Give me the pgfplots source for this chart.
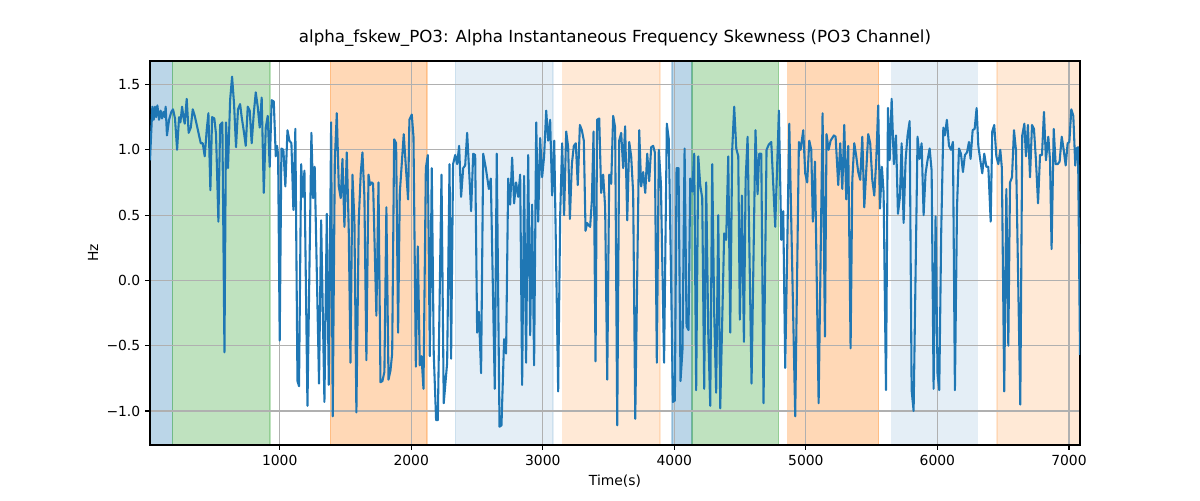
\documentclass[border=0pt]{standalone}
\usepackage{pgfplots}
\pgfplotsset{compat=1.18}
\usepackage{fontspec}
\setmainfont{DejaVu Sans}
\definecolor{tabblue}{HTML}{1F77B4}
\definecolor{taborange}{HTML}{FF7F0E}
\definecolor{tabgreen}{HTML}{2CA02C}
\begin{document}
\begin{tikzpicture}
\begin{axis}[
  set layers=standard,
  scale only axis,
  width=669.6pt, height=276.5pt,
  xmin=14, xmax=7084, ymin=-1.26, ymax=1.68,
  xtick={1000,2000,3000,4000,5000,6000,7000},
  ytick={-1,-0.5,0,0.5,1,1.5},
  yticklabels={−1.0,−0.5,0.0,0.5,1.0,1.5},
  /pgf/number format/assume math mode=true,
  /pgf/number format/set thousands separator={},
  grid=major,
  grid style={color=black!31, line width=0.8pt},
  axis line style={line width=0.8pt},
  tick style={line width=0.8pt, black},
  tick align=outside,
  major tick length=3.5pt,
  xtick pos=bottom, ytick pos=left,
  tick label style={font=\fontsize{10}{12}\selectfont},
  title={alpha\_fskew\_PO3: Alpha Instantaneous Frequency Skewness (PO3 Channel)},
  title style={at={(axis description cs:0.5,1.039)}, anchor=center, font=\fontsize{12}{14}\selectfont},
  xlabel={Time(s)},
  xlabel style={at={(axis description cs:0.5,-0.094)}, anchor=center, font=\fontsize{10}{12}\selectfont},
  ylabel={Hz},
  ylabel style={at={(axis description cs:-0.0613,0.5)}, anchor=center, font=\fontsize{10}{12}\selectfont},
]
% shaded spans
\addplot[on layer=axis background, draw=tabblue, fill=tabblue, opacity=0.3, line width=1pt] coordinates {(14,-1.26) (14,1.68) (183,1.68) (183,-1.26)};
\addplot[on layer=axis background, draw=tabgreen, fill=tabgreen, opacity=0.3, line width=1pt] coordinates {(183,-1.26) (183,1.68) (927,1.68) (927,-1.26)};
\addplot[on layer=axis background, draw=taborange, fill=taborange, opacity=0.3, line width=1pt] coordinates {(1386,-1.26) (1386,1.68) (2121,1.68) (2121,-1.26)};
\addplot[on layer=axis background, draw=tabblue, fill=tabblue, opacity=0.12, line width=1pt] coordinates {(2336,-1.26) (2336,1.68) (3079,1.68) (3079,-1.26)};
\addplot[on layer=axis background, draw=taborange, fill=taborange, opacity=0.17, line width=1pt] coordinates {(3150,-1.26) (3150,1.68) (3890,1.68) (3890,-1.26)};
\addplot[on layer=axis background, draw=tabblue, fill=tabblue, opacity=0.3, line width=1pt] coordinates {(3981,-1.26) (3981,1.68) (4133,1.68) (4133,-1.26)};
\addplot[on layer=axis background, draw=tabgreen, fill=tabgreen, opacity=0.3, line width=1pt] coordinates {(4133,-1.26) (4133,1.68) (4793,1.68) (4793,-1.26)};
\addplot[on layer=axis background, draw=taborange, fill=taborange, opacity=0.3, line width=1pt] coordinates {(4861,-1.26) (4861,1.68) (5553,1.68) (5553,-1.26)};
\addplot[on layer=axis background, draw=tabblue, fill=tabblue, opacity=0.12, line width=1pt] coordinates {(5651,-1.26) (5651,1.68) (6303,1.68) (6303,-1.26)};
\addplot[on layer=axis background, draw=taborange, fill=taborange, opacity=0.17, line width=1pt] coordinates {(6452,-1.26) (6452,1.68) (7084,1.68) (7084,-1.26)};
% series
\addplot[color=tabblue, line width=1.5pt, mark=none, line join=round] table {
x y
14 0.92
32 1.33
42 1.23
52 1.33
60 1.25
70 1.34
83 1.23
95 1.30
105 1.24
116 1.29
126 1.25
133 1.33
143 1.11
159 1.23
176 1.29
189 1.31
204 1.24
220 1.00
235 1.25
245 1.21
258 1.33
268 1.25
278 1.20
293 1.39
308 1.13
324 1.17
339 1.31
354 1.26
374 1.17
389 1.10
400 1.05
415 1.05
430 0.95
445 1.15
458 1.28
473 0.69
486 1.25
503 1.24
516 1.12
534 0.45
547 1.19
564 1.21
580 -0.55
592 1.21
607 0.86
623 1.38
638 1.56
653 1.35
668 1.02
683 1.31
699 1.35
711 1.25
726 1.15
742 1.03
757 1.33
772 1.30
787 1.05
803 1.28
818 1.44
833 1.33
848 1.17
863 1.40
879 0.67
894 1.17
909 1.26
924 0.87
939 1.38
955 1.37
970 0.95
980 1.03
988 0.96
1000 -0.46
1013 1.01
1028 1.00
1043 0.72
1059 1.15
1074 1.07
1089 1.05
1104 0.54
1119 1.16
1135 -0.77
1147 -0.81
1163 0.89
1175 0.64
1188 0.84
1211 -0.96
1241 1.13
1254 0.63
1266 0.87
1299 -0.79
1315 0.46
1340 -0.93
1358 0.51
1373 -0.80
1391 1.21
1403 -1.04
1419 0.92
1434 1.28
1449 0.72
1464 0.63
1477 0.93
1492 0.41
1510 0.98
1525 0.38
1538 -0.63
1553 0.81
1568 0.46
1583 -1.01
1601 0.46
1616 0.82
1629 0.98
1644 0.64
1659 -0.61
1675 0.81
1687 0.73
1700 0.75
1710 0.74
1735 -0.27
1751 0.75
1766 -0.78
1781 -0.77
1796 -0.70
1811 0.56
1827 -0.76
1842 -0.69
1855 -0.56
1870 1.08
1885 1.05
1900 -0.40
1913 0.67
1943 1.12
1961 0.84
1976 0.62
1986 1.23
2004 1.27
2017 1.10
2035 -0.66
2050 0.26
2065 -0.65
2078 -0.58
2093 -0.83
2111 0.86
2126 0.96
2141 -0.58
2156 0.86
2171 -0.56
2189 -1.07
2202 -1.07
2230 0.81
2247 -0.94
2273 -0.63
2291 0.89
2303 -0.60
2318 0.89
2334 0.96
2349 0.89
2364 1.03
2379 0.64
2395 0.86
2410 0.88
2425 1.13
2440 0.84
2455 0.53
2471 0.97
2486 0.96
2501 -0.40
2514 -0.24
2531 -0.71
2547 0.97
2567 0.86
2590 0.70
2605 0.78
2635 -0.83
2650 0.97
2671 -1.12
2686 -1.11
2706 -0.45
2721 -0.56
2737 0.78
2752 0.58
2767 0.94
2782 0.59
2797 0.75
2813 0.64
2828 0.81
2843 -0.80
2858 0.80
2873 -0.63
2889 0.96
2904 -0.42
2919 0.58
2934 -0.65
2950 1.21
2965 0.45
2980 1.09
2995 0.79
3010 0.95
3026 1.30
3041 1.07
3056 1.23
3071 0.65
3087 1.07
3117 -0.85
3132 0.49
3147 1.05
3162 0.50
3178 1.14
3193 1.02
3206 0.47
3221 0.89
3236 1.03
3251 1.05
3266 0.73
3282 1.19
3297 1.15
3312 1.07
3325 0.38
3337 0.44
3350 0.42
3360 0.41
3373 0.61
3386 1.14
3401 -0.62
3413 1.23
3429 1.24
3444 0.67
3459 0.81
3474 0.56
3490 -0.76
3505 0.81
3520 0.74
3535 1.26
3550 1.17
3566 -1.11
3581 1.07
3596 1.13
3611 0.86
3626 1.18
3642 0.46
3657 1.06
3672 0.95
3687 0.67
3703 -1.06
3733 1.15
3748 0.72
3763 0.83
3779 0.67
3794 0.97
3809 0.76
3824 1.02
3839 1.03
3852 0.98
3867 -0.63
3882 1.00
3898 0.74
3922 -0.63
3943 1.20
3958 1.08
3974 0.10
3989 -0.93
4004 -0.92
4017 0.86
4032 0.86
4047 -0.77
4062 -0.53
4078 1.01
4093 -0.35
4108 -0.38
4121 0.78
4136 0.68
4151 0.97
4166 -0.84
4182 0.95
4197 0.73
4212 0.63
4227 -0.83
4242 0.75
4258 -0.41
4273 -0.96
4288 0.89
4303 -0.25
4318 -0.86
4334 0.50
4349 -0.98
4379 0.36
4394 0.31
4410 0.95
4425 -0.40
4440 1.00
4455 1.33
4471 1.01
4486 0.95
4498 -0.30
4514 0.65
4529 -0.47
4542 0.77
4557 1.10
4587 -0.79
4617 1.15
4633 0.66
4645 0.97
4661 0.97
4678 -0.94
4701 1.00
4718 1.04
4737 1.06
4767 0.41
4795 1.30
4813 0.31
4828 0.53
4843 -0.67
4874 1.20
4919 -1.04
4947 1.06
4960 1.00
4980 1.15
4995 0.82
5010 0.75
5026 1.07
5041 1.00
5053 0.45
5069 0.91
5097 -0.94
5127 1.28
5145 -0.43
5157 1.12
5173 1.00
5188 1.07
5213 1.11
5226 1.10
5246 0.73
5261 1.05
5277 0.70
5292 1.19
5307 0.62
5322 1.03
5340 -0.52
5353 0.77
5368 1.05
5383 0.95
5398 0.83
5413 0.77
5429 1.10
5444 0.56
5459 0.84
5474 1.12
5489 1.05
5505 0.77
5520 0.65
5535 0.92
5550 1.34
5563 0.55
5578 0.87
5591 0.67
5609 -0.84
5624 1.32
5637 0.92
5652 1.39
5669 0.89
5685 1.11
5700 0.51
5715 0.64
5728 1.05
5743 0.44
5758 0.92
5773 1.11
5789 1.22
5804 -0.84
5819 -1.00
5849 1.10
5865 0.93
5880 1.05
5895 0.50
5910 0.82
5925 0.92
5941 1.01
5956 0.84
5971 -0.83
5986 0.49
6001 -0.72
6014 -0.84
6029 0.38
6045 1.17
6057 1.11
6072 1.23
6088 1.03
6103 1.00
6118 1.06
6133 -0.84
6149 0.56
6164 1.01
6179 0.97
6194 0.83
6209 0.96
6225 0.98
6240 1.06
6252 0.93
6268 1.15
6283 1.16
6298 1.32
6311 1.03
6326 0.92
6341 0.82
6356 0.97
6372 0.87
6387 0.87
6405 0.45
6417 1.14
6432 1.19
6448 0.95
6463 0.89
6478 1.00
6490 0.86
6508 -0.85
6524 0.70
6539 -0.50
6552 0.75
6567 0.79
6582 1.15
6597 1.00
6630 -0.95
6645 1.11
6661 1.20
6673 0.95
6688 1.19
6704 0.79
6719 1.19
6734 1.16
6749 0.92
6765 0.59
6780 0.96
6795 0.96
6810 1.29
6825 0.92
6843 1.10
6856 0.92
6868 0.24
6884 1.16
6899 0.89
6914 0.89
6929 0.91
6945 1.10
6960 1.00
6975 0.88
6990 1.05
7003 1.06
7018 1.31
7033 1.26
7048 0.88
7059 1.01
7069 1.02
7084 -0.57
};
\end{axis}
\path (-108pt,-39.6pt) rectangle (756pt,320.4pt);
\end{tikzpicture}
\end{document}
